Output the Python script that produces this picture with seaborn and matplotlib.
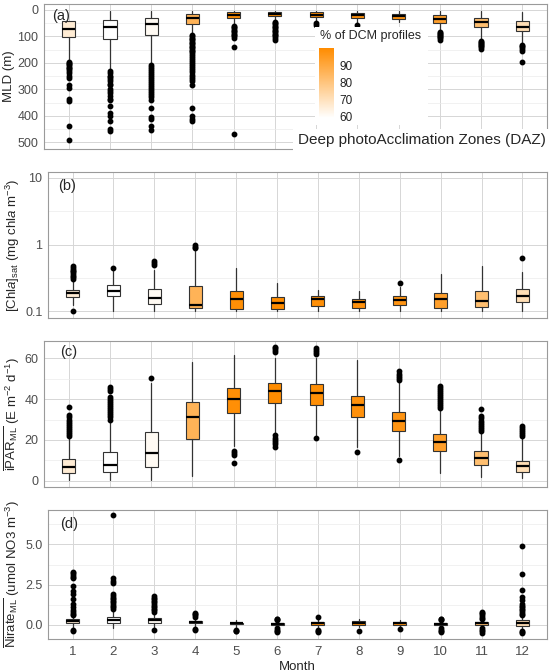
import seaborn as sns
import matplotlib.pyplot as plt
import numpy as np
from matplotlib.colors import LinearSegmentedColormap, Normalize
from matplotlib.cm import ScalarMappable
from matplotlib.patches import Rectangle
from matplotlib.ticker import FixedLocator, NullFormatter

sns.set_theme(style='whitegrid')
plt.rcParams['font.family'] = ['Liberation Sans', 'DejaVu Sans']
plt.rcParams['mathtext.fontset'] = 'custom'
plt.rcParams['mathtext.rm'] = 'Liberation Sans'
plt.rcParams['mathtext.it'] = 'Liberation Sans:italic'

# months and % of DCM profiles (fill colour)
months = list(range(1, 13))
daz_pct = [66, 59, 61, 86, 99, 100, 99, 98, 97, 93, 82, 71]

# (a) MLD (m)
mld_q1 = [44, 38, 29, 15, 9, 10, 10, 12, 16, 21, 31, 44]
mld_med = [73, 66, 53, 31, 19, 17, 19, 21, 25, 35, 46, 63]
mld_q3 = [104, 110, 95, 53, 31, 25, 27, 31, 35, 50, 63, 78]
mld_lo = [42, 5, 5, 5, 3, 3, 3, 3, 5, 6, 6, 10]
mld_hi = [190, 245, 205, 90, 55, 40, 45, 52, 45, 82, 112, 130]
mld_out = [
    [195, 200, 205, 210, 215, 220, 225, 230, 240, 250, 258, 285, 295, 338, 345, 440, 490],
    [232, 240, 248, 255, 262, 270, 278, 285, 300, 305, 315, 325, 335, 340, 362, 390, 400, 420, 450, 458],
    [210, 215, 222, 230, 238, 245, 252, 260, 268, 275, 282, 290, 298, 305, 312, 320, 330, 340,
     370, 405, 412, 440, 452],
    [95, 100, 105, 110, 115, 120, 125, 130, 135, 140, 145, 150, 155, 160, 168, 175, 182, 190,
     198, 205, 212, 220, 228, 236, 245, 252, 260, 268, 285, 370, 402, 410, 418],
    [60, 65, 70, 75, 80, 85, 90, 95, 100, 105, 140, 470],
    [45, 50, 55, 60, 65, 70, 75, 80, 85, 90, 95, 100, 105, 113],
    [50, 56],
    [58],
    [],
    [84, 88, 92, 96, 100, 104, 108, 113],
    [116, 120, 124, 128, 132, 136, 140, 146],
    [134, 138, 142, 148, 154, 195],
]

# (b) [Chla]sat
chl_q1 = [0.161, 0.167, 0.128, 0.112, 0.109, 0.109, 0.118, 0.112, 0.125, 0.112, 0.114, 0.137]
chl_med = [0.187, 0.199, 0.158, 0.125, 0.149, 0.133, 0.149, 0.136, 0.144, 0.154, 0.140, 0.171]
chl_q3 = [0.210, 0.250, 0.218, 0.236, 0.199, 0.161, 0.171, 0.149, 0.167, 0.188, 0.203, 0.218]
chl_lo = [0.125, 0.1, 0.1, 0.1, 0.1, 0.1, 0.1, 0.1, 0.1, 0.1, 0.1, 0.1]
chl_hi = [0.28, 0.40, 0.41, 0.80, 0.45, 0.266, 0.21, 0.203, 0.228, 0.362, 0.47, 0.389]
chl_out = [
    [0.10, 0.30, 0.32, 0.34, 0.36, 0.38, 0.40, 0.42, 0.44, 0.47],
    [0.45],
    [0.50, 0.53, 0.56],
    [0.88, 0.93, 0.98],
    [], [], [], [],
    [0.266],
    [], [],
    [0.616],
]

# (c) mean iPAR in ML
par_q1 = [3.7, 4.2, 7.0, 20.3, 33.0, 37.9, 37.1, 31.1, 24.4, 14.8, 7.8, 4.5]
par_med = [6.7, 7.8, 13.5, 31.1, 40.0, 43.9, 43.1, 37.1, 29.4, 18.9, 11.1, 7.3]
par_q3 = [10.7, 14.3, 24.1, 38.7, 45.2, 48.0, 47.2, 41.5, 33.8, 22.9, 14.6, 9.8]
par_lo = [0.5, 0.5, 0.5, 2.6, 17.0, 23.3, 22.4, 16.7, 12.0, 3.7, 2.1, 1.6]
par_hi = [21.5, 29.3, 47.7, 58.2, 61.5, 60.0, 60.0, 59.0, 48.5, 34.6, 24.0, 21.6]
par_out = [
    [22, 23, 24, 25, 26, 27, 28, 29, 30, 31, 32, 36.2],
    [30, 31, 32, 33, 34, 35, 36, 37, 38, 39, 40, 41, 44, 45, 46],
    [50.5],
    [],
    [14.5, 13.5, 12.8, 8.6],
    [63, 64, 65, 65.5, 22.4, 21, 20, 19, 18, 16.8],
    [62, 63, 64, 65, 20.8],
    [14.3],
    [49.5, 50.5, 51.5, 52.5, 53.7, 10.2],
    [35.5, 36.5, 37.5, 38.5, 39.5, 40.5, 41.5, 42.5, 43.5, 44.5, 45.5, 46.5],
    [24.5, 25.5, 26.5, 27.5, 28.5, 29.5, 30.5, 31.5, 35.1],
    [22, 23, 24, 25, 26, 27],
]

# (d) mean nitrate in ML
no3_q1 = [0.10, 0.10, 0.15, 0.10, 0.05, 0.02, 0.00, 0.00, 0.00, 0.00, 0.02, -0.04]
no3_med = [0.22, 0.31, 0.30, 0.18, 0.10, 0.07, 0.10, 0.15, 0.10, 0.08, 0.10, 0.15]
no3_q3 = [0.35, 0.52, 0.45, 0.25, 0.15, 0.12, 0.20, 0.25, 0.18, 0.15, 0.18, 0.31]
no3_lo = [-0.2, -0.2, -0.1, -0.1, -0.1, -0.12, -0.15, -0.15, -0.15, -0.1, -0.1, -0.25]
no3_hi = [0.55, 0.95, 0.75, 0.45, 0.30, 0.25, 0.35, 0.40, 0.30, 0.20, 0.30, 0.55]
no3_out = [
    [0.6, 0.7, 0.8, 0.9, 1.1, 1.3, 1.6, 1.9, 2.1, 2.4, 2.9, 3.0, 3.1, 3.2, 3.3, -0.3, -0.4],
    [1.0, 1.1, 1.2, 1.3, 1.4, 1.5, 1.6, 1.7, 1.8, 1.9, 2.6, 2.75, 2.9, 6.8],
    [0.8, 0.9, 1.0, 1.1, 1.2, 1.3, 1.4, 1.5, 1.6, 1.7, 1.8, -0.3],
    [0.5, 0.6, 0.7, 0.75, -0.25, -0.3],
    [-0.3, -0.35, -0.4],
    [0.3, 0.35, 0.4, -0.2, -0.3, -0.4, -0.45],
    [0.47, -0.3, -0.4, -0.45],
    [-0.4],
    [-0.25],
    [0.3, 0.35, 0.4, -0.2, -0.3, -0.4, -0.45],
    [0.35, 0.45, 0.55, 0.65, 0.75, 0.8, -0.2, -0.3, -0.4, -0.5],
    [0.6, 0.7, 0.8, 0.9, 1.0, 1.1, 1.2, 1.3, 1.55, 1.76, 2.17, 3.16, 4.92, -0.4, -0.45, -0.5],
]

cmap = LinearSegmentedColormap.from_list('daz', ['#FFFFFF', '#FF8C00'])
norm = Normalize(59, 100)

W, H = 556, 672
fig = plt.figure(figsize=(W / 100, H / 100), dpi=100)

tick_col = '#4D4D4D'
grid_major = '#D6D6D6'
grid_minor = '#EBEBEB'


def make_ax(left, top, bottom, right=547):
    return fig.add_axes([left / W, 1 - bottom / H, (right - left) / W, (bottom - top) / H])


def draw_boxes(ax, q1, med, q3, lo, hi, out):
    stats = [dict(q1=a, med=m, q3=b, whislo=l, whishi=h, fliers=f)
             for a, m, b, l, h, f in zip(q1, med, q3, lo, hi, out)]
    bp = ax.bxp(stats, positions=months, widths=0.32, patch_artist=True, showcaps=False,
                boxprops=dict(edgecolor='#333333', linewidth=0.8),
                medianprops=dict(color='black', linewidth=1.6),
                whiskerprops=dict(color='#333333', linewidth=0.9),
                flierprops=dict(marker='o', markerfacecolor='black', markeredgecolor='black',
                                markersize=3.2, linestyle='none'))
    for patch, p in zip(bp['boxes'], daz_pct):
        patch.set_facecolor(cmap(norm(p)))
    ax.set_xlim(0.4, 12.6)
    ax.set_xticks(months)
    ax.grid(which='major', color=grid_major, linewidth=0.7)
    ax.grid(which='minor', axis='y', color=grid_minor, linewidth=0.5)
    ax.set_axisbelow(True)
    for s in ax.spines.values():
        s.set_visible(True)
        s.set_color('#9A9A9A')
        s.set_linewidth(0.8)
    ax.tick_params(axis='y', which='major', labelsize=9, colors=tick_col, length=3,
                   width=0.6, pad=1)
    ax.tick_params(axis='y', which='minor', length=0)
    ax.tick_params(axis='x', length=0, labelbottom=False)


# (a)
ax_a = make_ax(44, 4, 149)
draw_boxes(ax_a, mld_q1, mld_med, mld_q3, mld_lo, mld_hi, mld_out)
ax_a.set_ylim(525, -22)
ax_a.set_yticks([0, 100, 200, 300, 400, 500])
ax_a.yaxis.set_minor_locator(FixedLocator([50, 150, 250, 350, 450]))
ax_a.set_ylabel('MLD (m)', fontsize=9.5)
ax_a.yaxis.set_label_coords(-0.058, 0.5)
ax_a.text(0.016, 0.917, '(a)', transform=ax_a.transAxes, fontsize=10.5, va='center')

# legend box and colorbar
ax_a.add_patch(Rectangle((315 / W, 1 - 125 / H), 113 / W, 98 / H, transform=fig.transFigure,
                         facecolor='white', edgecolor='none', zorder=5))
fig.text(320 / W, 1 - 36 / H, '% of DCM profiles', fontsize=9, va='center')
cax = fig.add_axes([319 / W, 1 - 118 / H, 15 / W, 70 / H])
cax.set_zorder(10)
cb = fig.colorbar(ScalarMappable(norm=norm, cmap=cmap), cax=cax, ticks=[60, 70, 80, 90])
cb.outline.set_visible(False)
cax.tick_params(labelsize=8.5, length=0, pad=4, colors='#222222')
ax_a.text(0.997, 0.06, 'Deep photoAcclimation Zones (DAZ)', transform=ax_a.transAxes,
          fontsize=11, ha='right', va='center', zorder=6,
          bbox=dict(facecolor='white', edgecolor='none', pad=3))

# (b)
ax_b = make_ax(48, 172, 318)
draw_boxes(ax_b, chl_q1, chl_med, chl_q3, chl_lo, chl_hi, chl_out)
ax_b.set_yscale('log')
ax_b.set_ylim(10 ** -1.105, 10 ** 1.09)
ax_b.yaxis.set_major_locator(FixedLocator([0.1, 1, 10]))
ax_b.set_yticklabels(['0.1', '1', '10'])
ax_b.yaxis.set_minor_locator(FixedLocator([10 ** -0.5, 10 ** 0.5]))
ax_b.yaxis.set_minor_formatter(NullFormatter())
ax_b.grid(which='minor', axis='y', color=grid_minor, linewidth=0.5)
ax_b.tick_params(axis='y', which='minor', length=0)
ax_b.set_ylabel(r'$[\mathrm{Chl}\mathit{a}]_{\mathrm{sat}}\ (\mathrm{mg\ chl}\mathit{a}\ \mathrm{m}^{-3})$',
                fontsize=9.5)
ax_b.yaxis.set_label_coords(-0.052, 0.5)
ax_b.text(0.02, 0.906, '(b)', transform=ax_b.transAxes, fontsize=10.5, va='center')

# (c)
ax_c = make_ax(44, 341, 487)
draw_boxes(ax_c, par_q1, par_med, par_q3, par_lo, par_hi, par_out)
ax_c.set_ylim(-3, 68.4)
ax_c.set_yticks([0, 20, 40, 60])
ax_c.yaxis.set_minor_locator(FixedLocator([10, 30, 50]))
ax_c.set_ylabel(r'$\overline{\mathrm{iPAR}_{\mathrm{ML}}}\ (\mathrm{E\ m}^{-2}\ \mathrm{d}^{-1})$',
                fontsize=9.5)
ax_c.yaxis.set_label_coords(-0.044, 0.5)
ax_c.text(0.032, 0.927, '(c)', transform=ax_c.transAxes, fontsize=10.5, va='center')

# (d)
ax_d = make_ax(48, 510, 639)
draw_boxes(ax_d, no3_q1, no3_med, no3_q3, no3_lo, no3_hi, no3_out)
ax_d.set_ylim(-0.87, 7.13)
ax_d.set_yticks([0, 2.5, 5])
ax_d.set_yticklabels(['0.0', '2.5', '5.0'])
ax_d.yaxis.set_minor_locator(FixedLocator([1.25, 3.75, 6.25]))
ax_d.set_ylabel(r'$\overline{\mathrm{Nirate}_{\mathrm{ML}}}\ (\mathrm{umol\ NO3\ m}^{-3})$',
                fontsize=9.5)
ax_d.yaxis.set_label_coords(-0.052, 0.5)
ax_d.text(0.024, 0.89, '(d)', transform=ax_d.transAxes, fontsize=10.5, va='center')
ax_d.tick_params(axis='x', labelbottom=True, labelsize=9.5, colors=tick_col, length=3,
                 width=0.6, pad=2)
ax_d.set_xticklabels([str(m) for m in months])
ax_d.set_xlabel('Month', fontsize=9.5, labelpad=2)

fig.savefig('out.png', dpi=100)
